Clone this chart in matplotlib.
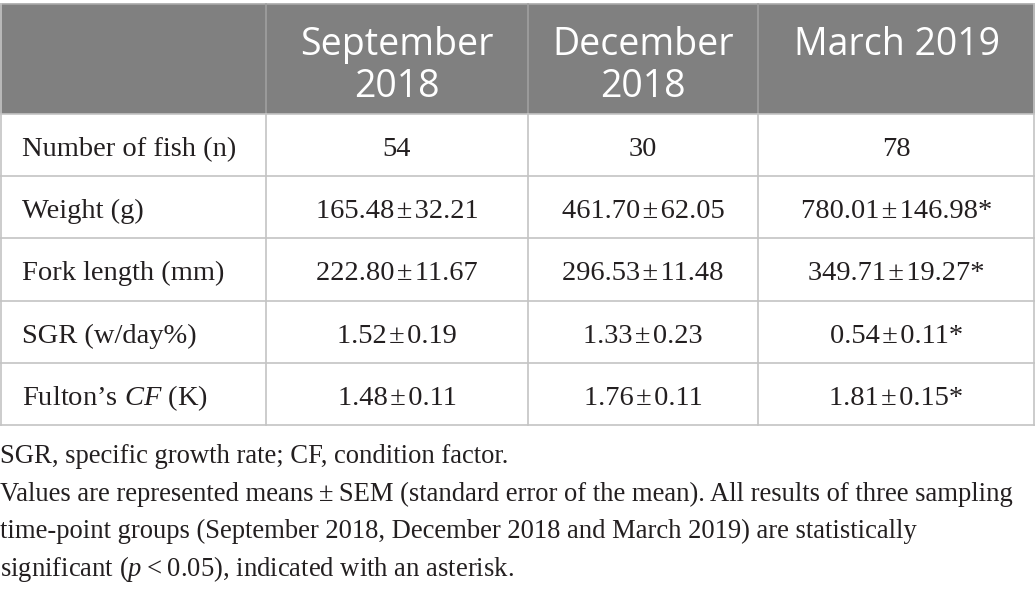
import matplotlib
matplotlib.use("Agg")
import matplotlib.pyplot as plt
from matplotlib.patches import Rectangle

plt.rcParams['mathtext.fontset'] = 'custom'
plt.rcParams['mathtext.rm'] = 'Liberation Serif'
plt.rcParams['mathtext.it'] = 'Liberation Serif:italic'

PM = "\u200a\u00b1\u200a"

# table content
col_heads = [["September", "2018"], ["December", "2018"], ["March 2019"]]
row_labels = ["Number of fish (n)", "Weight (g)", "Fork length (mm)",
              "SGR (w/day%)", "Fulton\u2019s $\\mathit{CF}$ (K)"]
sep_vals = ["54", "165.48" + PM + "32.21", "222.80" + PM + "11.67",
            "1.52" + PM + "0.19", "1.48" + PM + "0.11"]
dec_vals = ["30", "461.70" + PM + "62.05", "296.53" + PM + "11.48",
            "1.33" + PM + "0.23", "1.76" + PM + "0.11"]
mar_vals = ["78", "780.01" + PM + "146.98*", "349.71" + PM + "19.27*",
            "0.54" + PM + "0.11*", "1.81" + PM + "0.15*"]
notes = ["SGR, specific growth rate; CF, condition factor.",
         "Values are represented means\u2009\u00b1\u2009SEM (standard error of the mean). All results of three sampling",
         "time-point groups (September 2018, December 2018 and March 2019) are statistically",
         "significant ($\\mathit{p}$\u2009<\u20090.05), indicated with an asterisk."]

W, H = 1035, 589
fig = plt.figure(figsize=(W / 100, H / 100), dpi=100)
ax = fig.add_axes([0, 0, 1, 1])
ax.set_xlim(0, W)
ax.set_ylim(H, 0)
ax.axis('off')

col_x = [0, 266, 528, 758, 1035]
head_top, head_bot = 4, 114
row_h = 62.2
row_y = [head_bot + i * row_h for i in range(len(row_labels) + 1)]
line_c = '#c4c4c4'
text_c = '#231f20'

ax.add_patch(Rectangle((0, head_top), W, head_bot - head_top, color='#808080', lw=0))
ax.plot([0, W], [head_top, head_top], color='#a8a8a8', lw=1.2)
for x in col_x[1:-1]:
    ax.plot([x, x], [head_top, head_bot], color='#a0a0a0', lw=1.2)
    ax.plot([x, x], [head_bot, row_y[-1]], color=line_c, lw=1.2)
for x in [0.6, W - 0.6]:
    ax.plot([x, x], [head_top, row_y[-1]], color=line_c, lw=1.2)
for y in row_y:
    ax.plot([0, W], [y, y], color=line_c, lw=1.2)

for j, lines in enumerate(col_heads):
    cx = (col_x[j + 1] + col_x[j + 2]) / 2
    for k, t in enumerate(lines):
        ax.text(cx, 55 + k * 42, t, ha='center', va='baseline', color='white',
                fontsize=27, family='Open Sans')

body = dict(fontsize=20.5, family='Liberation Serif', color=text_c, va='baseline')
for i, lab in enumerate(row_labels):
    base = row_y[i] + 42
    ax.text(22, base, lab, ha='left', **body)
    for j, vals in enumerate([sep_vals, dec_vals, mar_vals]):
        cx = (col_x[j + 1] + col_x[j + 2]) / 2
        ax.text(cx, base, vals[i], ha='center', **body)

foot = dict(body, fontsize=19.2)
for i, t in enumerate(notes):
    ax.text(0, 463 + i * 37.7, t, ha='left', **foot)

fig.savefig('out.png', dpi=100)
